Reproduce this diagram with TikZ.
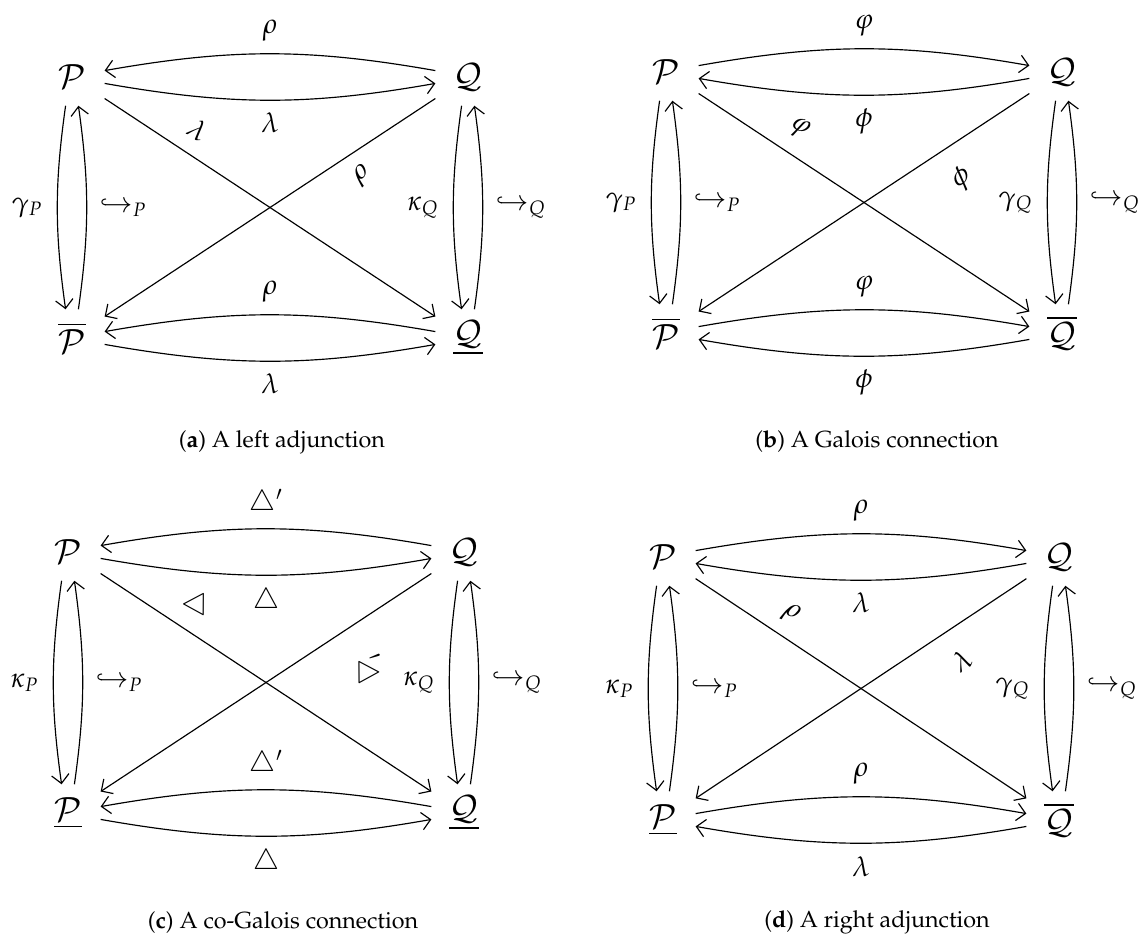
\documentclass[tikz,border=0pt]{standalone}
\usepackage[T1]{fontenc}
\usepackage{mathpazo}
\usepackage{amsmath,amssymb}
\usepackage{graphicx}
\usepackage{tikz}
\usetikzlibrary{arrows.meta,positioning}

\begin{document}
\begin{tikzpicture}[x=0.0181cm,y=0.0181cm,line width=0.6pt,
  >={Straight Barb[length=4.5pt,width=9pt]},
  obj/.style={inner sep=0pt,minimum width=33pt,minimum height=29pt,font=\LARGE},
  lab/.style={font=\Large},
  subcap/.style={font=\fontsize{12}{14}\selectfont}]
  \useasboundingbox (0,0) rectangle (1139,-936);

  \begin{scope}[shift={(72,-77)}]
    \node[obj] (aP) at (0,0) {$\mathcal{P}$};
    \node[obj] (aQ) at (396,0) {$\mathcal{Q}$};
    \node[obj] (aPb) at (0,-261) {$\overline{\mathcal{P}}$};
    \node[obj] (aQb) at (396,-261) {$\underline{\mathcal{Q}}$};
    \draw[->] ([yshift=3.3pt]aQ.west) to[bend right=10] node[lab,above=3pt] {$\rho$} ([yshift=3.3pt]aP.east);
    \draw[->] ([yshift=-3.3pt]aP.east) to[bend right=10] node[lab,below=3pt] {$\lambda$} ([yshift=-3.3pt]aQ.west);
    \draw[->] ([yshift=3.3pt]aQb.west) to[bend right=10] node[lab,above=3pt] {$\rho$} ([yshift=3.3pt]aPb.east);
    \draw[->] ([yshift=-3.3pt]aPb.east) to[bend right=10] node[lab,below=3pt] {$\lambda$} ([yshift=-3.3pt]aQb.west);
    \draw[->] ([xshift=-3.3pt]aP.south) to[bend right=8] node[lab,left=4pt] {$\gamma_P$} ([xshift=-3.3pt]aPb.north);
    \draw[->] ([xshift=3.3pt]aPb.north) to[bend right=8] node[lab,right=3pt] {$\hookrightarrow_P$} ([xshift=3.3pt]aP.south);
    \draw[->] ([xshift=-3.3pt]aQ.south) to[bend right=8] node[lab,left=4pt] {$\kappa_Q$} ([xshift=-3.3pt]aQb.north);
    \draw[->] ([xshift=3.3pt]aQb.north) to[bend right=8] node[lab,right=3pt] {$\hookrightarrow_Q$} ([xshift=3.3pt]aQ.south);
    \draw[->] (aP) -- (aQb) node[lab,pos=.24,sloped,above=4pt] {$\lambda$};
    \draw[->] (aQ) -- (aPb) node[lab,pos=.26,sloped,below=3pt] {$\rho$};
  \end{scope}
  \node[subcap] (acap) at (282,-442) {(\textbf{a}) A left adjunction};

  \begin{scope}[shift={(666,-72)}]
    \node[obj] (bP) at (0,0) {$\mathcal{P}$};
    \node[obj] (bQ) at (396,0) {$\mathcal{Q}$};
    \node[obj] (bPb) at (0,-261) {$\overline{\mathcal{P}}$};
    \node[obj] (bQb) at (396,-261) {$\overline{\mathcal{Q}}$};
    \draw[->] ([yshift=3.3pt]bP.east) to[bend left=10] node[lab,above=3pt] {$\varphi$} ([yshift=3.3pt]bQ.west);
    \draw[->] ([yshift=-3.3pt]bQ.west) to[bend left=10] node[lab,below=3pt] {$\phi$} ([yshift=-3.3pt]bP.east);
    \draw[->] ([yshift=3.3pt]bPb.east) to[bend left=10] node[lab,above=3pt] {$\varphi$} ([yshift=3.3pt]bQb.west);
    \draw[->] ([yshift=-3.3pt]bQb.west) to[bend left=10] node[lab,below=3pt] {$\phi$} ([yshift=-3.3pt]bPb.east);
    \draw[->] ([xshift=-3.3pt]bP.south) to[bend right=8] node[lab,left=4pt] {$\gamma_P$} ([xshift=-3.3pt]bPb.north);
    \draw[->] ([xshift=3.3pt]bPb.north) to[bend right=8] node[lab,right=3pt] {$\hookrightarrow_P$} ([xshift=3.3pt]bP.south);
    \draw[->] ([xshift=-3.3pt]bQ.south) to[bend right=8] node[lab,left=4pt] {$\gamma_Q$} ([xshift=-3.3pt]bQb.north);
    \draw[->] ([xshift=3.3pt]bQb.north) to[bend right=8] node[lab,right=3pt] {$\hookrightarrow_Q$} ([xshift=3.3pt]bQ.south);
    \draw[->] (bP) -- (bQb) node[lab,pos=.26,sloped,above=4.5pt] {$\varphi$};
    \draw[->] (bQ) -- (bPb) node[lab,pos=.26,sloped,below=7pt] {$\phi$};
  \end{scope}
  \node[subcap] (bcap) at (877,-442) {(\textbf{b}) A Galois connection};

  \begin{scope}[shift={(68,-552)}]
    \node[obj] (cP) at (0,0) {$\mathcal{P}$};
    \node[obj] (cQ) at (396,0) {$\mathcal{Q}$};
    \node[obj] (cPb) at (0,-261) {$\underline{\mathcal{P}}$};
    \node[obj] (cQb) at (396,-261) {$\underline{\mathcal{Q}}$};
    \draw[->] ([yshift=3.3pt]cQ.west) to[bend right=10] node[lab,above=3pt] {$\triangle'$} ([yshift=3.3pt]cP.east);
    \draw[->] ([yshift=-3.3pt]cP.east) to[bend right=10] node[lab,below=3pt] {$\triangle$} ([yshift=-3.3pt]cQ.west);
    \draw[->] ([yshift=3.3pt]cQb.west) to[bend right=10] node[lab,above=3pt] {$\triangle'$} ([yshift=3.3pt]cPb.east);
    \draw[->] ([yshift=-3.3pt]cPb.east) to[bend right=10] node[lab,below=3pt] {$\triangle$} ([yshift=-3.3pt]cQb.west);
    \draw[->] ([xshift=-3.3pt]cP.south) to[bend right=8] node[lab,left=4pt] {$\kappa_P$} ([xshift=-3.3pt]cPb.north);
    \draw[->] ([xshift=3.3pt]cPb.north) to[bend right=8] node[lab,right=3pt] {$\hookrightarrow_P$} ([xshift=3.3pt]cP.south);
    \draw[->] ([xshift=-3.3pt]cQ.south) to[bend right=8] node[lab,left=4pt] {$\kappa_Q$} ([xshift=-3.3pt]cQb.north);
    \draw[->] ([xshift=3.3pt]cQb.north) to[bend right=8] node[lab,right=3pt] {$\hookrightarrow_Q$} ([xshift=3.3pt]cQ.south);
    \draw[->] (cP) -- (cQb) node[lab,pos=.245,sloped,above=1pt] {\rotatebox{123}{$\triangle$}};
    \draw[->] (cQ) -- (cPb) node[lab,pos=.27,sloped,below=8pt] {\rotatebox{-123}{\reflectbox{$\triangle'$}}};
  \end{scope}
  \node[subcap] (ccap) at (283,-922) {(\textbf{c}) A co-Galois connection};

  \begin{scope}[shift={(663,-557)}]
    \node[obj] (dP) at (0,0) {$\mathcal{P}$};
    \node[obj] (dQ) at (396,0) {$\mathcal{Q}$};
    \node[obj] (dPb) at (0,-263) {$\underline{\mathcal{P}}$};
    \node[obj] (dQb) at (396,-263) {$\overline{\mathcal{Q}}$};
    \draw[->] ([yshift=3.3pt]dP.east) to[bend left=10] node[lab,above=3pt] {$\rho$} ([yshift=3.3pt]dQ.west);
    \draw[->] ([yshift=-3.3pt]dQ.west) to[bend left=10] node[lab,below=3pt] {$\lambda$} ([yshift=-3.3pt]dP.east);
    \draw[->] ([yshift=3.3pt]dPb.east) to[bend left=10] node[lab,above=3pt] {$\rho$} ([yshift=3.3pt]dQb.west);
    \draw[->] ([yshift=-3.3pt]dQb.west) to[bend left=10] node[lab,below=3pt] {$\lambda$} ([yshift=-3.3pt]dPb.east);
    \draw[->] ([xshift=-3.3pt]dP.south) to[bend right=8] node[lab,left=4pt] {$\kappa_P$} ([xshift=-3.3pt]dPb.north);
    \draw[->] ([xshift=3.3pt]dPb.north) to[bend right=8] node[lab,right=3pt] {$\hookrightarrow_P$} ([xshift=3.3pt]dP.south);
    \draw[->] ([xshift=-3.3pt]dQ.south) to[bend right=8] node[lab,left=4pt] {$\gamma_Q$} ([xshift=-3.3pt]dQb.north);
    \draw[->] ([xshift=3.3pt]dQb.north) to[bend right=8] node[lab,right=3pt] {$\hookrightarrow_Q$} ([xshift=3.3pt]dQ.south);
    \draw[->] (dP) -- (dQb) node[lab,pos=.25,sloped,above=3pt] {$\rho$};
    \draw[->] (dQ) -- (dPb) node[lab,pos=.25,sloped,below=8pt] {$\lambda$};
  \end{scope}
  \node[subcap] (dcap) at (877,-922) {(\textbf{d}) A right adjunction};
\end{tikzpicture}
\end{document}
